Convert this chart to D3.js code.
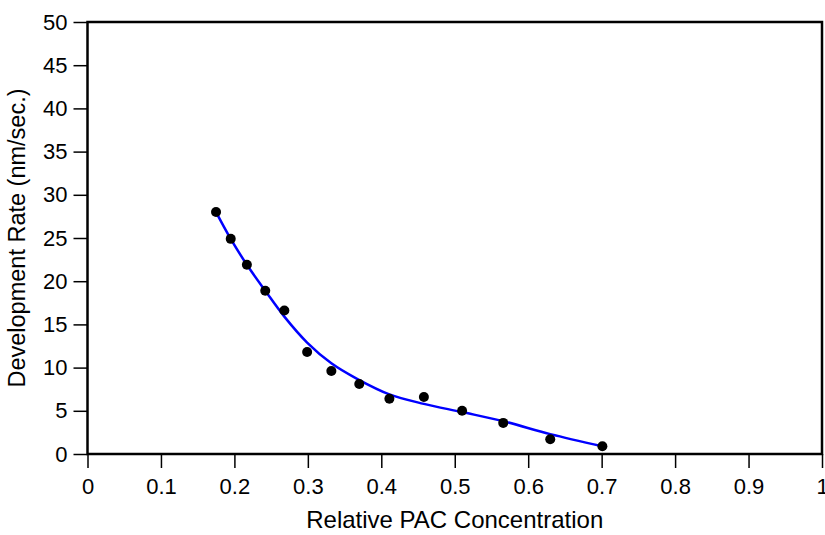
<!DOCTYPE html>
<html>
<head>
<meta charset="utf-8">
<script src="https://cdn.jsdelivr.net/npm/d3@7"></script>
<style>
  body { margin: 0; background: #fff; }
  svg text { font-family: "Liberation Sans", Arial, sans-serif; fill: #000; }
</style>
</head>
<body>
<script>
const width = 825;
const height = 535;
const margin = { top: 22, right: 3, bottom: 81, left: 87.5 };

// measured points
const pacConc = [0.175, 0.195, 0.217, 0.242, 0.268, 0.299, 0.332, 0.370, 0.411, 0.458, 0.510, 0.566, 0.630, 0.701];
const devRate = [28.0, 24.9, 21.9, 18.9, 16.6, 11.8, 9.6, 8.1, 6.4, 6.6, 5.0, 3.6, 1.7, 0.9];

// fitted curve
const fitConc = [0.175, 0.195, 0.217, 0.242, 0.268, 0.299, 0.332, 0.367, 0.411, 0.458, 0.510, 0.566, 0.630, 0.701];
const fitRate = [28.0, 24.9, 21.9, 18.9, 15.9, 12.9, 10.5, 8.7, 6.9, 5.8, 4.85, 3.8, 2.3, 0.9];

const xTicks = [0, 0.1, 0.2, 0.3, 0.4, 0.5, 0.6, 0.7, 0.8, 0.9, 1];
const yTicks = [0, 5, 10, 15, 20, 25, 30, 35, 40, 45, 50];

const svg = d3.select("body")
    .append("svg")
    .attr("width", width)
    .attr("height", height);

const x = d3.scaleLinear().domain([0, 1]).range([margin.left, width - margin.right]);
const y = d3.scaleLinear().domain([0, 50]).range([height - margin.bottom, margin.top]);

// x axis
const xAxis = svg.append("g")
    .attr("transform", `translate(0,${height - margin.bottom})`)
    .call(d3.axisBottom(x).tickValues(xTicks).tickFormat(d3.format("")).tickSize(14).tickPadding(10));

// y axis
const yAxis = svg.append("g")
    .attr("transform", `translate(${margin.left},0)`)
    .call(d3.axisLeft(y).tickValues(yTicks).tickSize(14).tickPadding(6));

[xAxis, yAxis].forEach(g => {
  g.select(".domain").remove();
  g.selectAll(".tick line").attr("stroke", "#000").attr("stroke-width", 1.5);
  g.selectAll(".tick text").attr("font-size", 22).attr("font-family", "Liberation Sans, Arial, sans-serif");
});

// frame
svg.append("rect")
    .attr("x", margin.left)
    .attr("y", margin.top)
    .attr("width", width - margin.right - margin.left)
    .attr("height", height - margin.bottom - margin.top)
    .attr("fill", "none")
    .attr("stroke", "#000")
    .attr("stroke-width", 2.5);

// fit line
const line = d3.line()
    .x((d, i) => x(fitConc[i]))
    .y(d => y(d))
    .curve(d3.curveCatmullRom);

svg.append("path")
    .datum(fitRate)
    .attr("d", line)
    .attr("fill", "none")
    .attr("stroke", "#0000ff")
    .attr("stroke-width", 2.5);

// points
svg.append("g")
  .selectAll("circle")
  .data(devRate)
  .join("circle")
    .attr("cx", (d, i) => x(pacConc[i]))
    .attr("cy", d => y(d))
    .attr("r", 5)
    .attr("fill", "#000");

// axis titles
svg.append("text")
    .attr("x", (margin.left + width - margin.right) / 2)
    .attr("y", 528)
    .attr("text-anchor", "middle")
    .attr("font-size", 24)
    .text("Relative PAC Concentration");

svg.append("text")
    .attr("transform", `translate(25,${(margin.top + height - margin.bottom) / 2}) rotate(-90)`)
    .attr("text-anchor", "middle")
    .attr("font-size", 23.5)
    .text("Development Rate (nm/sec.)");
</script>
</body>
</html>
